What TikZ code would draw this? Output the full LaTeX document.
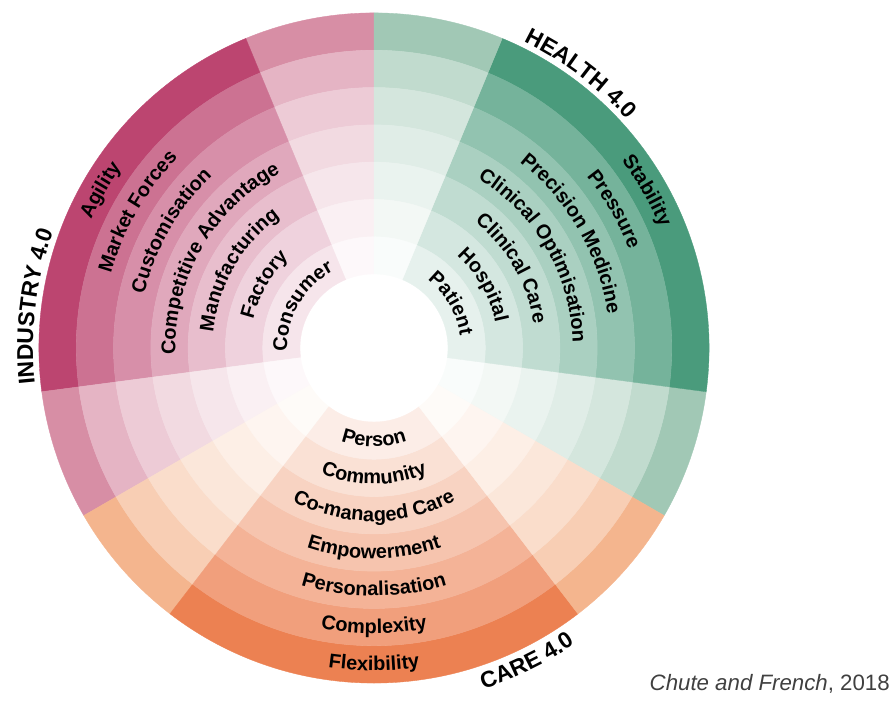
\documentclass[tikz,border=0pt]{standalone}
\usepackage{fontspec}
\setmainfont{Liberation Sans}
\usetikzlibrary{decorations.text}

\definecolor{indcol}{HTML}{BC4570}
\definecolor{indlt}{HTML}{D78EA5}
\definecolor{hlthcol}{HTML}{4A9B7C}
\definecolor{hlthlt}{HTML}{A1C8B5}
\definecolor{carecol}{HTML}{EC8152}
\definecolor{carelt}{HTML}{F4B58E}

\newcommand\ringfont{\bfseries\fontsize{17}{20}\selectfont}
\newcommand\areafont{\bfseries\fontsize{19.5}{23}\selectfont}
% annular segment: colour, from angle, to angle, inner radius, outer radius
\newcommand\ringseg[5]{%
  \filldraw[seg-fill,fill=#1,draw=#1] (#2:#4) arc[start angle=#2,end angle=#3,radius=#4]
    -- (#3:#5) arc[start angle=#3,end angle=#2,radius=#5] -- cycle;}

\tikzset{
  seg-fill/.style={line width=0.3pt,line join=round},
  lbl-ring/.style={decorate,decoration={text along path,text align=center,text={|\ringfont|#1}}},
  lbl-area/.style={decorate,decoration={text along path,text align=center,text={|\areafont|#1}}},
  cite-txt/.style={font=\fontsize{19}{22}\selectfont,text=black!75,inner sep=0pt},
}

\begin{document}
\begin{tikzpicture}[x=0.03cm,y=0.03cm]
  \useasboundingbox (-374,-354) rectangle (521,348);

  % RINGS: 7 = outer, 1 = inner
  \foreach \k/\pd/\pl in {7/100/100,6/76/66,5/60/46,4/47/33,3/35/22,2/24/13,1/14/6}{
    \pgfmathsetmacro\ri{74+(\k-1)*37.3}
    \pgfmathsetmacro\ro{74+\k*37.3}
    % industry
    \ringseg{indlt!\pl!white}{90}{112.5}{\ri}{\ro}
    \ringseg{indcol!\pd!white}{112.5}{187.5}{\ri}{\ro}
    \ringseg{indlt!\pl!white}{187.5}{210}{\ri}{\ro}
    % health
    \ringseg{hlthlt!\pl!white}{-30}{-7.5}{\ri}{\ro}
    \ringseg{hlthcol!\pd!white}{-7.5}{67.5}{\ri}{\ro}
    \ringseg{hlthlt!\pl!white}{67.5}{90}{\ri}{\ro}
    % care
    \ringseg{carelt!\pl!white}{210}{232.5}{\ri}{\ro}
    \ringseg{carecol!\pd!white}{232.5}{307.5}{\ri}{\ro}
    \ringseg{carelt!\pl!white}{307.5}{330}{\ri}{\ro}
  }

  % SECTOR 1: industry
  \path[lbl-ring=Agility]               (186:310.6) arc[start angle=186,end angle=114,radius=310.6];
  \path[lbl-ring=Market Forces]         (186:273.3) arc[start angle=186,end angle=114,radius=273.3];
  \path[lbl-ring=Customisation]         (186:236)   arc[start angle=186,end angle=114,radius=236];
  \path[lbl-ring=Competitive Advantage] (186:198.7) arc[start angle=186,end angle=114,radius=198.7];
  \path[lbl-ring=Manufacturing]         (186:161.4) arc[start angle=186,end angle=114,radius=161.4];
  \path[lbl-ring=Factory]               (186:124.1) arc[start angle=186,end angle=114,radius=124.1];
  \path[lbl-ring=Consumer]              (186:86.8)  arc[start angle=186,end angle=114,radius=86.8];

  % SECTOR 2: health
  \path[lbl-ring=Stability]             (66:310.6) arc[start angle=66,end angle=-6,radius=310.6];
  \path[lbl-ring=Pressure]              (66:273.3) arc[start angle=66,end angle=-6,radius=273.3];
  \path[lbl-ring=Precision Medicine]    (66:236)   arc[start angle=66,end angle=-6,radius=236];
  \path[lbl-ring=Clinical Optimisation] (66:198.7) arc[start angle=66,end angle=-6,radius=198.7];
  \path[lbl-ring=Clinical Care]         (66:161.4) arc[start angle=66,end angle=-6,radius=161.4];
  \path[lbl-ring=Hospital]              (66:124.1) arc[start angle=66,end angle=-6,radius=124.1];
  \path[lbl-ring=Patient]               (66:86.8)  arc[start angle=66,end angle=-6,radius=86.8];

  % SECTOR 3: care (read left to right along the bottom)
  \path[lbl-ring=Flexibility]           (234:322.6) arc[start angle=234,end angle=306,radius=322.6];
  \path[lbl-ring=Complexity]            (234:285.3) arc[start angle=234,end angle=306,radius=285.3];
  \path[lbl-ring=Personalisation]       (234:248)   arc[start angle=234,end angle=306,radius=248];
  \path[lbl-ring=Empowerment]           (234:210.7) arc[start angle=234,end angle=306,radius=210.7];
  \path[lbl-ring=Co-managed Care]       (234:173.4) arc[start angle=234,end angle=306,radius=173.4];
  \path[lbl-ring=Community]             (234:136.1) arc[start angle=234,end angle=306,radius=136.1];
  \path[lbl-ring=Person]                (234:98.8)  arc[start angle=234,end angle=306,radius=98.8];

  % area titles outside the wheel
  \path[lbl-area=INDUSTRY 4.0] (195:341) arc[start angle=195,end angle=151,radius=341];
  \path[lbl-area=HEALTH 4.0]   (75:341)  arc[start angle=75,end angle=31,radius=341];
  \path[lbl-area=CARE 4.0]     (-86:358) arc[start angle=-86,end angle=-42,radius=358];

  \node[cite-txt,anchor=base east] (cite) at (516,-342) {\textit{Chute and French}, 2018};

\end{tikzpicture}
\end{document}
